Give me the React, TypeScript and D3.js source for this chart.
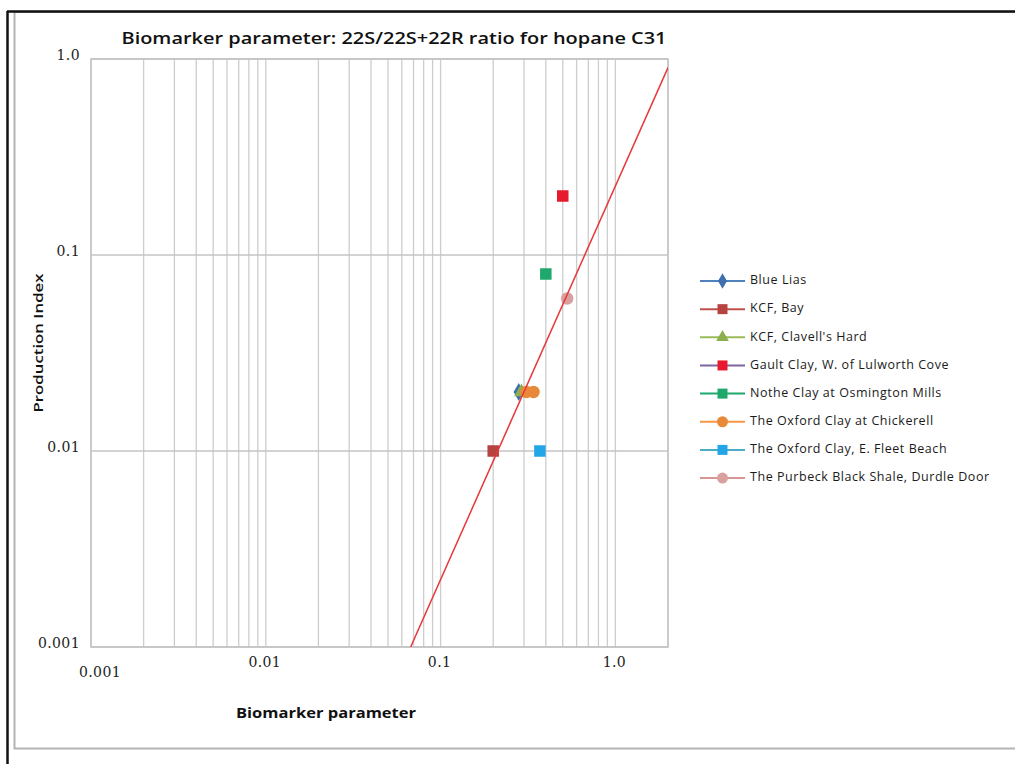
import React from 'react';
import * as d3 from 'd3';

// series
const seriesNames = [
  'Blue Lias',
  'KCF, Bay',
  "KCF, Clavell's Hard",
  'Gault Clay, W. of Lulworth Cove',
  'Nothe Clay at Osmington  Mills',
  'The Oxford Clay at Chickerell',
  'The Oxford Clay, E. Fleet Beach',
  'The Purbeck Black Shale, Durdle Door',
];
const seriesX = [[0.28], [0.2], [0.29], [0.5], [0.4], [0.31, 0.34], [0.37], [0.53]];
const seriesY = [[0.02], [0.01], [0.02], [0.2], [0.08], [0.02, 0.02], [0.01], [0.06]];
const lineColors = ['#4F81BD', '#C0504D', '#9BBB59', '#8064A2', '#1FA86C', '#F79646', '#4BACC6', '#D99694'];
const markerColors = ['#3F6FAE', '#B5433F', '#8DB04C', '#E8192C', '#1FA86C', '#E8893A', '#22A6E8', '#D9A0A0'];
const markerShapes = ['diamond', 'square', 'triangle', 'square', 'square', 'circle', 'square', 'circle'];

// power trendline ends
const trendX = [0.0674, 2];
const trendY = [0.001, 0.904];

const tickValues = [0.001, 0.01, 0.1, 1];
const tickLabels = ['0.001', '0.01', '0.1', '1.0'];

const W = 1015;
const H = 764;
const plot = { left: 91, top: 59, right: 668, bottom: 647 };

const x = d3.scaleLog().domain([0.001, 2]).range([plot.left, plot.right]);
const y = d3.scaleLog().domain([0.001, 1]).range([plot.bottom, plot.top]);

const Marker = ({ shape, cx, cy, color, size }) => {
  if (shape === 'circle') return <circle cx={cx} cy={cy} r={size / 2 + 0.5} fill={color} />;
  const sym = shape === 'diamond' ? d3.symbolDiamond : shape === 'triangle' ? d3.symbolTriangle : d3.symbolSquare;
  const area = shape === 'square' ? size * size : size * size * 0.7;
  const path = d3.symbol().type(sym).size(area)();
  return <path d={path} transform={`translate(${cx},${cy})`} fill={color} />;
};

const App = () => {
  const minor = x.ticks();
  const line = d3.line().x((d) => x(d[0])).y((d) => y(d[1]));
  const trend = trendX.map((v, i) => [v, trendY[i]]);
  const legendY0 = 281;
  const legendStep = 28.15;

  return (
    <svg width={W} height={H} style={{ position: 'absolute', left: 0, top: 0, background: '#fff' }}>
      {/* frames */}
      <rect x={14.5} y={12} width={1010} height={736.5} fill="none" stroke="#b4b4b4" strokeWidth={2} />
      <line x1={7.5} y1={11} x2={7.5} y2={H} stroke="#111" strokeWidth={2.5} />
      <line x1={7} y1={11.5} x2={W} y2={11.5} stroke="#111" strokeWidth={2.5} />

      <clipPath id="plotClip">
        <rect x={plot.left} y={plot.top} width={plot.right - plot.left} height={plot.bottom - plot.top} />
      </clipPath>

      {/* vertical grid */}
      {minor.map((t, i) => (
        <line key={'vx' + i} x1={x(t)} x2={x(t)} y1={plot.top} y2={plot.bottom} stroke="#cdcdcd" strokeWidth={1.3} />
      ))}
      {/* horizontal grid */}
      {tickValues.map((t, i) => (
        <line key={'hy' + i} x1={plot.left} x2={plot.right} y1={y(t)} y2={y(t)} stroke="#c4c4c4" strokeWidth={1.5} />
      ))}
      <rect x={plot.left} y={plot.top} width={plot.right - plot.left} height={plot.bottom - plot.top} fill="none" stroke="#c4c4c4" strokeWidth={1.5} />

      {/* points */}
      {seriesX.map((xs, si) =>
        xs.map((v, j) => (
          <Marker key={si + '-' + j} shape={markerShapes[si]} cx={x(v)} cy={y(seriesY[si][j])} color={markerColors[si]} size={11.5} />
        ))
      )}

      <path d={line(trend)} fill="none" stroke="#E8363A" strokeWidth={1.5} clipPath="url(#plotClip)" />

      {/* tick labels */}
      {tickValues.map((t, i) => (
        <text key={'yl' + i} x={80} y={y(t) - 3} textAnchor="end" dominantBaseline="middle"
          fontFamily="DejaVu Serif" fontSize={14} letterSpacing={0.4} fill="#222">{tickLabels[i]}</text>
      ))}
      {tickValues.map((t, i) => (
        <text key={'xl' + i} x={i === 0 ? x(t) + 9 : x(t) - 1} y={i === 0 ? 673 : 663} textAnchor="middle" dominantBaseline="middle"
          fontFamily="DejaVu Serif" fontSize={14} letterSpacing={0.4} fill="#222">{tickLabels[i]}</text>
      ))}

      {/* titles */}
      <text x={394} y={39} textAnchor="middle" dominantBaseline="middle" fontFamily="Open Sans" fontWeight="600"
        fontSize={17} fill="#111" textLength={545} lengthAdjust="spacingAndGlyphs">
        Biomarker parameter: 22S/22S+22R ratio for hopane C31
      </text>
      <text x={326} y={714} textAnchor="middle" dominantBaseline="middle" fontFamily="Open Sans" fontWeight="bold"
        fontSize={14} fill="#111" textLength={180} lengthAdjust="spacingAndGlyphs">
        Biomarker parameter
      </text>
      <text transform="translate(40,343) rotate(-90)" textAnchor="middle" dominantBaseline="middle" fontFamily="Open Sans"
        fontWeight="600" fontSize={13} fill="#111" textLength={139} lengthAdjust="spacingAndGlyphs">
        Production Index
      </text>

      {/* legend */}
      {seriesNames.map((name, i) => {
        const ly = legendY0 + i * legendStep;
        return (
          <g key={'lg' + i}>
            <line x1={700} x2={745} y1={ly} y2={ly} stroke={lineColors[i]} strokeWidth={2} />
            <Marker shape={markerShapes[i]} cx={722.5} cy={ly} color={markerColors[i]} size={10} />
            <text x={750} y={ly} dominantBaseline="middle" fontFamily="Open Sans" fontSize={12.5} letterSpacing={0.55} fill="#1a1a1a">{name}</text>
          </g>
        );
      })}
    </svg>
  );
};

export default App;
